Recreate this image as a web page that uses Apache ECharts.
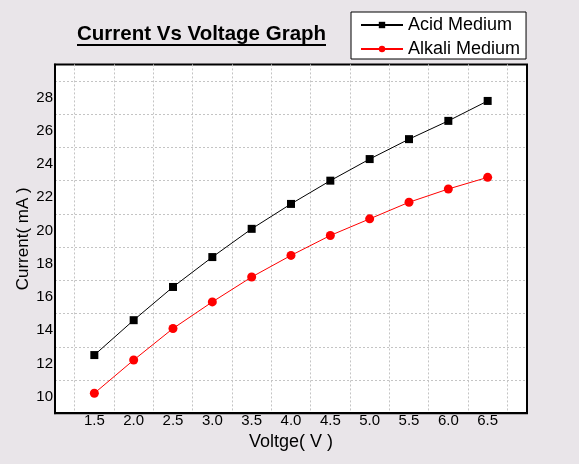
<!DOCTYPE html>
<html>
<head>
<meta charset="utf-8">
<script src="https://cdn.jsdelivr.net/npm/echarts@6/dist/echarts.min.js"></script>
<style>
html,body{margin:0;padding:0;background:#e9e5e9;}
#chart{width:579px;height:464px;}
</style>
</head>
<body>
<div id="chart"></div>
<script>
const voltage = [1.5, 2.0, 2.5, 3.0, 3.5, 4.0, 4.5, 5.0, 5.5, 6.0, 6.5];
const acidMedium = [12.5, 14.6, 16.6, 18.4, 20.1, 21.6, 23.0, 24.3, 25.5, 26.6, 27.8];
const alkaliMedium = [10.2, 12.2, 14.1, 15.7, 17.2, 18.5, 19.7, 20.7, 21.7, 22.5, 23.2];
const xTickLabels = ['1.5','2.0','2.5','3.0','3.5','4.0','4.5','5.0','5.5','6.0','6.5'];
const yTickLabels = ['10','12','14','16','18','20','22','24','26','28'];
const seriesNames = ['Acid Medium', 'Alkali Medium'];
const titleText = 'Current Vs Voltage Graph';
const xName = 'Voltge( V )';
const yName = 'Current( mA )';

const FONT = '"Liberation Sans", Arial, sans-serif';
const zip = (xs, ys) => xs.map((x, i) => [x, ys[i]]);
const GRID_COLOR = '#c4c4c4';
const NONE = 'rgba(0,0,0,0)';

const chart = echarts.init(document.getElementById('chart'));
chart.setOption({
  animation: false,
  backgroundColor: '#e9e5e9',
  title: {
    text: titleText,
    left: 77, top: 24, padding: 0,
    textStyle: {fontFamily: FONT, fontSize: 20.5, fontWeight: 'bold', color: '#000'}
  },
  graphic: [{
    type: 'line', shape: {x1: 77, y1: 45, x2: 326, y2: 45},
    style: {stroke: '#000', lineWidth: 2}, z: 100
  }],
  legend: {
    orient: 'vertical',
    left: 351, top: 12,
    padding: [4, 6, 1, 9],
    itemWidth: 42, itemHeight: 8, itemGap: 6,
    backgroundColor: '#fff', borderColor: '#000', borderWidth: 1,
    textStyle: {fontFamily: FONT, fontSize: 18, color: '#000', lineHeight: 18},
    data: seriesNames
  },
  grid: {
    left: 55, right: 52, top: 64.4, bottom: 50.8,
    show: true, backgroundColor: '#fff', borderColor: '#000', borderWidth: 2,
    containLabel: false, outerBoundsMode: 'none'
  },
  xAxis: {
    type: 'value', min: 1, max: 7, interval: 0.25,
    name: xName, nameLocation: 'middle', nameGap: 20,
    nameTextStyle: {fontFamily: FONT, fontSize: 18, color: '#000'},
    axisLine: {show: true, onZero: false, lineStyle: {color: '#000', width: 2}},
    axisTick: {show: false},
    axisLabel: {
      margin: 0, fontFamily: FONT, fontSize: 15, color: '#000',
      formatter: v => { const s = v.toFixed(1); return (xTickLabels.includes(s) && Math.abs(v * 2 - Math.round(v * 2)) < 1e-9) ? s : ''; }
    },
    splitLine: {show: true, showMinLine: false, showMaxLine: false,
      lineStyle: {color: [GRID_COLOR, NONE], type: [2, 2], width: 1}}
  },
  yAxis: {
    type: 'value', min: 9, max: 30, interval: 1,
    name: yName, nameLocation: 'middle', nameGap: 23, nameMoveOverlap: false,
    nameTextStyle: {fontFamily: FONT, fontSize: 17, color: '#000'},
    axisLine: {show: true, onZero: false, lineStyle: {color: '#000', width: 2}},
    axisTick: {show: false},
    axisLabel: {
      margin: 2, fontFamily: FONT, fontSize: 15, color: '#000',
      formatter: v => yTickLabels.includes(String(v)) ? String(v) : ''
    },
    splitLine: {show: true, showMinLine: false, showMaxLine: false,
      lineStyle: {color: [NONE, GRID_COLOR], type: [2, 2], width: 1}}
  },
  series: [
    {
      name: seriesNames[0], type: 'line', data: zip(voltage, acidMedium),
      symbol: 'rect', symbolSize: 8,
      itemStyle: {color: '#000'}, lineStyle: {color: '#000', width: 1}
    },
    {
      name: seriesNames[1], type: 'line', data: zip(voltage, alkaliMedium),
      symbol: 'circle', symbolSize: 9,
      itemStyle: {color: '#ff0000'}, lineStyle: {color: '#ff0000', width: 1}
    }
  ]
});
</script>
</body>
</html>
